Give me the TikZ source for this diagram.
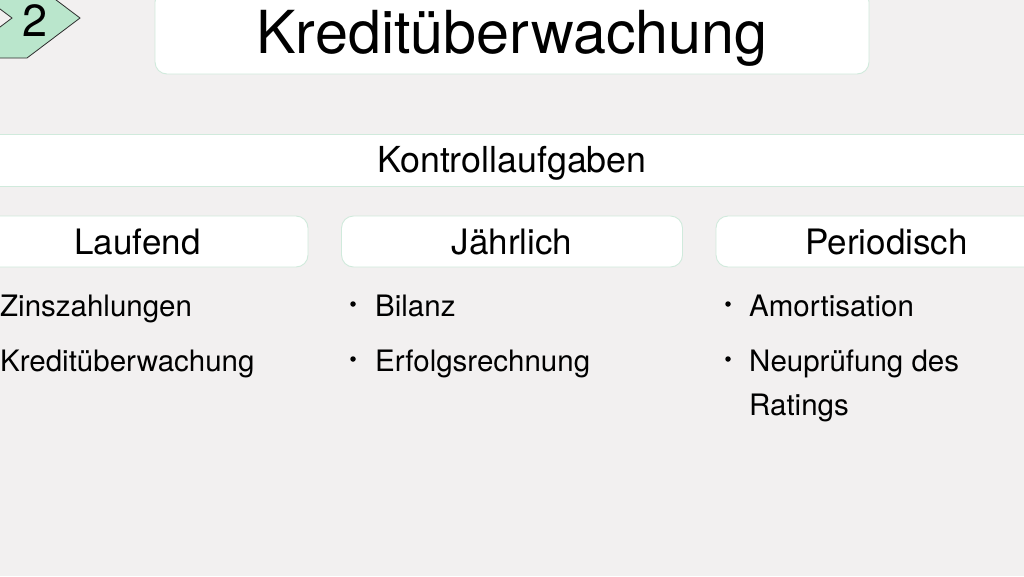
\documentclass[tikz,border=0pt]{standalone}
\usepackage{fontspec}
\setmainfont{TeX Gyre Heros}
\usepackage{tikz}

\definecolor{pagebg}{RGB}{242,240,240}
\definecolor{boxline}{RGB}{208,234,220}
\definecolor{stepfill}{RGB}{186,230,204}
\definecolor{stepline}{RGB}{45,45,45}

\tikzset{
  panel/.style={draw=boxline, fill=white, line width=0.9pt, rounded corners=12pt,
    inner sep=0pt, text height=25.2pt, text depth=0pt},
  hdr/.style={panel, minimum width=341pt, minimum height=51pt,
    font=\fontsize{35}{42}\selectfont},
  dot/.style={circle, fill=black, inner sep=0pt, minimum size=5.5pt},
  entry/.style={anchor=base west, align=left, inner sep=0pt,
    font=\fontsize{29.5}{44}\selectfont},
}

\begin{document}
\begin{tikzpicture}[x=1pt, y=-1pt]
        \useasboundingbox (0,0) rectangle (1024,576);
        \clip (0,0) rectangle (1024,576);
        \fill[pagebg] (0,0) rectangle (1024,576);

        % step marker
        \draw[stepline, fill=stepfill, line width=0.8pt]
          (-41,-22) -- (27,-22) -- (80,18) -- (27,58) -- (-41,58) -- (12,18) -- cycle;
        \node (stepno) at (35,21) {\fontsize{45}{50}\selectfont 2};

        % title
        \node[panel, minimum width=714pt, minimum height=84pt, text height=42.5pt,
          font=\fontsize{59.3}{64}\selectfont] (title) at (512,32) {Kreditüberwachung};

        \node[panel, rounded corners=0pt, minimum width=1070pt, minimum height=52pt,
          text height=25.8pt, font=\fontsize{35.8}{42}\selectfont] (tasks) at (512,160) {Kontrollaufgaben};

        \foreach \name/\cx/\lbl in {lauf/137.5/Laufend, jahr/512/Jährlich, peri/886.5/Periodisch} {
          \node[hdr] (\name) at (\cx,241.5) {\lbl};
        }

        % Laufend
        \node[dot] (b11) at (-22,304) {};
        \node[entry] (i11) at (0,316) {Zinszahlungen};
        \node[dot] (b12) at (-22,359) {};
        \node[entry] (i12) at (0,371) {Kreditüberwachung};

        % Jaehrlich
        \node[dot] (b21) at (353,304) {};
        \node[entry] (i21) at (375,316) {Bilanz};
        \node[dot] (b22) at (353,359) {};
        \node[entry] (i22) at (375,371) {Erfolgsrechnung};

        % Periodisch
        \node[dot] (b31) at (728,304) {};
        \node[entry] (i31) at (749,316) {Amortisation};
        \node[dot] (b32) at (728,359) {};
        \node[entry] (i32) at (749,415) {Neuprüfung des\\Ratings};
\end{tikzpicture}
\end{document}
